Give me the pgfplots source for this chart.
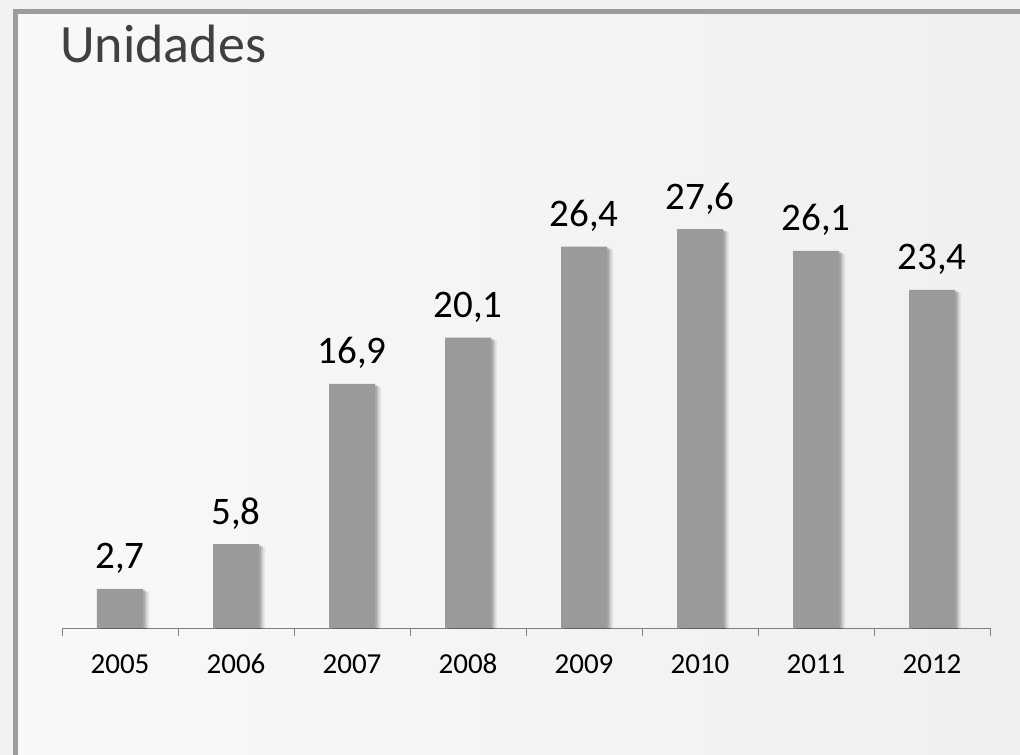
\documentclass[border=0pt]{standalone}
\usepackage{pgfplots}
\pgfplotsset{compat=1.18}
\usepackage{fontspec}
\setmainfont{Carlito}
\definecolor{barcol}{HTML}{9A9A9A}
\definecolor{framecol}{HTML}{9C9C9C}
\definecolor{titlecol}{HTML}{404040}
\begin{document}
\begin{tikzpicture}
% background, in reference pixels (axis origin = px 62,628)
\useasboundingbox (-62bp,-127bp) rectangle (958bp,628bp);
\fill[white!95!black] (-62bp,-127bp) rectangle (958bp,628bp);
\shade[left color=white!97.5!black, right color=white!94!black] (-46bp,-127bp) rectangle (958bp,616bp);
\draw[framecol, line width=5bp] (-46bp,-130bp) -- (-46bp,616bp) -- (962bp,616bp);
\node[anchor=base west, inner sep=0pt, text=titlecol, font=\fontsize{54bp}{60bp}\selectfont] at (-2bp,565bp) {Unidades};
\begin{axis}[
  scale only axis,
  width=928bp, height=433.5bp,
  ymin=0, ymax=30,
  xmin=-0.5, xmax=7.5,
  axis y line=none,
  axis x line*=bottom,
  x axis line style={gray, line width=1bp},
  xtick={0,...,7},
  xticklabels={2005,2006,2007,2008,2009,2010,2011,2012},
  minor xtick={-0.5,0.5,...,7.5},
  major tick length=0pt,
  minor tick length=8bp,
  tick align=outside,
  minor x tick style={gray, line width=1bp},
  xticklabel style={anchor=base, yshift=-45bp, inner sep=0pt, font=\fontsize{29bp}{32bp}\selectfont},
  ybar, bar width=46bp,
]
% soft shadow of the bars
\addplot[fill=black, draw=none, opacity=0.07, bar shift=6bp, yshift=-3bp, forget plot]
  coordinates {(0,2.7) (1,5.8) (2,16.9) (3,20.1) (4,26.4) (5,27.6) (6,26.1) (7,23.4)};
\addplot[fill=black, draw=none, opacity=0.12, bar shift=4bp, yshift=-2bp, forget plot]
  coordinates {(0,2.7) (1,5.8) (2,16.9) (3,20.1) (4,26.4) (5,27.6) (6,26.1) (7,23.4)};
\addplot[fill=black, draw=none, opacity=0.15, bar shift=2bp, yshift=-1bp, forget plot]
  coordinates {(0,2.7) (1,5.8) (2,16.9) (3,20.1) (4,26.4) (5,27.6) (6,26.1) (7,23.4)};
\addplot[fill=barcol, draw=none, bar shift=0pt,
  nodes near coords,
  nodes near coords style={anchor=base, inner sep=0pt, yshift=20bp, text=black, font=\fontsize{39bp}{42bp}\selectfont,
    /pgf/number format/.cd, fixed, fixed zerofill, precision=1, use comma, assume math mode=true}]
  coordinates {(0,2.7) (1,5.8) (2,16.9) (3,20.1) (4,26.4) (5,27.6) (6,26.1) (7,23.4)};
\end{axis}
\end{tikzpicture}
\end{document}
